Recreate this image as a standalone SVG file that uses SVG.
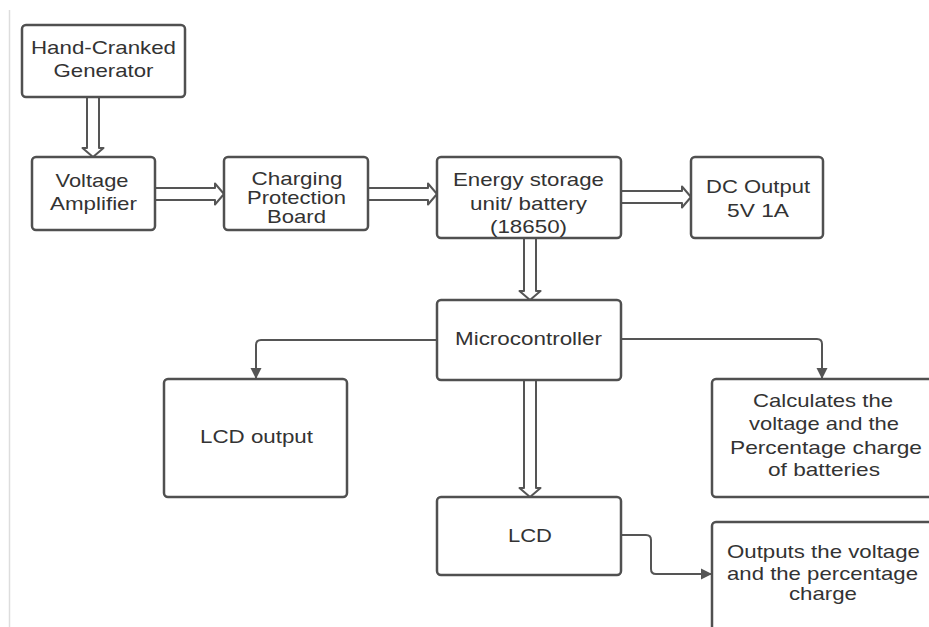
<svg xmlns="http://www.w3.org/2000/svg" width="929" height="627" viewBox="0 0 929 627">
<defs>
<style>
.box{fill:#fff;stroke:#505050;stroke-width:2.5}
.t{font-family:"Liberation Sans",Arial,sans-serif;font-size:19px;fill:#333;text-anchor:middle}
.ha{fill:#fff;stroke:#555;stroke-width:2;stroke-linejoin:round}
.ln{fill:none;stroke:#555;stroke-width:2}
</style>
<marker id="ah" viewBox="0 0 10 10" refX="10" refY="5" markerWidth="11" markerHeight="12" markerUnits="userSpaceOnUse" orient="auto">
<path d="M0,0 L10,5 L0,10 z" fill="#555"/>
</marker>
</defs>
<rect width="929" height="627" fill="#fff"/>
<line x1="9.5" y1="10" x2="9.5" y2="627" stroke="#ddd" stroke-width="1.5"/>

<g id="connectors">
<path class="ha" d="M87 97 L87 148 L82.5 148 L93 157 L103.5 148 L99 148 L99 97"/>
<path class="ha" d="M155 188 L215 188 L215 183.5 L224 194 L215 204.5 L215 200 L155 200"/>
<path class="ha" d="M368 188 L428 188 L428 183.5 L437 194 L428 204.5 L428 200 L368 200"/>
<path class="ha" d="M621 191 L682 191 L682 186.5 L691 197 L682 207.5 L682 203 L621 203"/>
<path class="ha" d="M524 238 L524 291 L519.5 291 L530 300 L540.5 291 L536 291 L536 238"/>
<path class="ha" d="M524 380 L524 488 L519.5 488 L530 497 L540.5 488 L536 488 L536 380"/>
<path class="ln" d="M437 340 L261 340 Q256 340 256 345 L256 379" marker-end="url(#ah)"/>
<path class="ln" d="M621 339 L817 339 Q822 339 822 344 L822 379" marker-end="url(#ah)"/>
<path class="ln" d="M621 535 L646 535 Q651 535 651 540 L651 569 Q651 574 656 574 L712 574" marker-end="url(#ah)"/>
</g>

<g id="hand-cranked-generator">
<rect class="box" x="22" y="25" width="163" height="72" rx="4"/>
<text class="t" x="103.5" y="54" textLength="145" lengthAdjust="spacingAndGlyphs">Hand-Cranked</text>
<text class="t" x="103.5" y="77" textLength="100" lengthAdjust="spacingAndGlyphs">Generator</text>
</g>

<g id="voltage-amplifier">
<rect class="box" x="32" y="157" width="123" height="73" rx="4"/>
<text class="t" x="92" y="187" textLength="73" lengthAdjust="spacingAndGlyphs">Voltage</text>
<text class="t" x="93.5" y="210" textLength="87" lengthAdjust="spacingAndGlyphs">Amplifier</text>
</g>

<g id="charging-protection-board">
<rect class="box" x="224" y="157" width="144" height="73" rx="4"/>
<text class="t" x="297" y="185" textLength="91" lengthAdjust="spacingAndGlyphs">Charging</text>
<text class="t" x="296.5" y="204" textLength="99" lengthAdjust="spacingAndGlyphs">Protection</text>
<text class="t" x="296.5" y="223" textLength="59" lengthAdjust="spacingAndGlyphs">Board</text>
</g>

<g id="energy-storage">
<rect class="box" x="437" y="157" width="184" height="81" rx="4"/>
<text class="t" x="528.5" y="186" textLength="151" lengthAdjust="spacingAndGlyphs">Energy storage</text>
<text class="t" x="528.5" y="210" textLength="117" lengthAdjust="spacingAndGlyphs">unit/ battery</text>
<text class="t" x="528.5" y="233" textLength="77" lengthAdjust="spacingAndGlyphs">(18650)</text>
</g>

<g id="dc-output">
<rect class="box" x="691" y="157" width="132" height="81" rx="4"/>
<text class="t" x="758" y="193" textLength="104" lengthAdjust="spacingAndGlyphs">DC Output</text>
<text class="t" x="758" y="217" textLength="62" lengthAdjust="spacingAndGlyphs">5V 1A</text>
</g>

<g id="microcontroller">
<rect class="box" x="437" y="300" width="184" height="80" rx="4"/>
<text class="t" x="528.5" y="345" textLength="147" lengthAdjust="spacingAndGlyphs">Microcontroller</text>
</g>

<g id="lcd-output">
<rect class="box" x="164" y="379" width="183" height="118" rx="4"/>
<text class="t" x="256.5" y="443" textLength="113" lengthAdjust="spacingAndGlyphs">LCD output</text>
</g>

<g id="calculates">
<rect class="box" x="712" y="379" width="230" height="118" rx="4"/>
<text class="t" x="823" y="407" textLength="140" lengthAdjust="spacingAndGlyphs">Calculates the</text>
<text class="t" x="824" y="430" textLength="150" lengthAdjust="spacingAndGlyphs">voltage and the</text>
<text class="t" x="826" y="454" textLength="192" lengthAdjust="spacingAndGlyphs">Percentage charge</text>
<text class="t" x="824" y="476" textLength="112" lengthAdjust="spacingAndGlyphs">of batteries</text>
</g>

<g id="lcd">
<rect class="box" x="437" y="497" width="184" height="78" rx="4"/>
<text class="t" x="530" y="542" textLength="44" lengthAdjust="spacingAndGlyphs">LCD</text>
</g>

<g id="outputs">
<rect class="box" x="712" y="522" width="230" height="115" rx="4"/>
<text class="t" x="823.5" y="558" textLength="193" lengthAdjust="spacingAndGlyphs">Outputs the voltage</text>
<text class="t" x="822.5" y="580" textLength="191" lengthAdjust="spacingAndGlyphs">and the percentage</text>
<text class="t" x="823" y="600" textLength="68" lengthAdjust="spacingAndGlyphs">charge</text>
</g>
</svg>
